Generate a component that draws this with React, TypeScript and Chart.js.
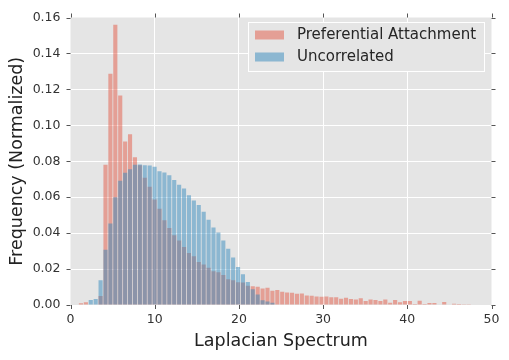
import React, { useEffect, useRef } from 'react';
import { Chart, registerables } from 'chart.js';

Chart.register(...registerables);

// Histogram bins (shared by both series)
const BIN_START = 0.95;
const BIN_WIDTH = 0.583;

const preferential = [
  0.001, 0.0015, 0, 0, 0.005, 0.078, 0.1287, 0.156, 0.1166, 0.091,
  0.095, 0.0822, 0.0778, 0.0708, 0.0658, 0.0587, 0.0535, 0.0471, 0.0428, 0.0388,
  0.0359, 0.0323, 0.029, 0.0272, 0.0239, 0.0226, 0.0208, 0.0188, 0.0182, 0.0167,
  0.0143, 0.0138, 0.0127, 0.0125, 0.0107, 0.0105, 0.0102, 0.0092, 0.0096, 0.0079,
  0.0083, 0.0074, 0.007, 0.0068, 0.0063, 0.0064, 0.0053, 0.0051, 0.0048, 0.0046,
  0.0048, 0.0043, 0.0043, 0.0035, 0.004, 0.0034, 0.003, 0.0037, 0.0022, 0.003,
  0.0028, 0.0022, 0.003, 0.0012, 0.0028, 0.0016, 0.0022, 0.0022, 0.0005, 0.0024,
  0.0005, 0.0011, 0.0011, 0.0003, 0.0017, 0.0003, 0.0007, 0.0006, 0.0002, 0.0002,
];

const uncorrelated = [
  0, 0, 0.0028, 0.0033, 0.0138, 0.0307, 0.0454, 0.06, 0.0691, 0.0736,
  0.0756, 0.078, 0.0782, 0.0778, 0.0776, 0.077, 0.0745, 0.0738, 0.0722, 0.0696,
  0.0669, 0.0649, 0.0611, 0.0582, 0.0556, 0.0519, 0.0474, 0.0432, 0.0404, 0.0359,
  0.0313, 0.0265, 0.0211, 0.0171, 0.0128, 0.0087, 0.0058, 0.0027, 0.002, 0.0012,
  0, 0, 0, 0, 0, 0, 0, 0, 0, 0,
  0, 0, 0, 0, 0, 0, 0, 0, 0, 0,
  0, 0, 0, 0, 0, 0, 0, 0, 0, 0,
  0, 0, 0, 0, 0, 0, 0, 0, 0, 0,
];

const xTicks = [0, 10, 20, 30, 40, 50];
const yTicks = [0, 0.02, 0.04, 0.06, 0.08, 0.1, 0.12, 0.14, 0.16];
const seriesLabels = ['Preferential Attachment', 'Uncorrelated'];
const xTitle = 'Laplacian Spectrum';
const yTitle = 'Frequency (Normalized)';

const PINK = 'rgba(226,74,51,0.45)';
const BLUE = 'rgba(52,138,189,0.5)';
const FONT = '"DejaVu Sans", "Liberation Sans", sans-serif';

const toPoints = (vals: number[]) =>
  vals.map((v, i) => ({ x: BIN_START + BIN_WIDTH * (i + 0.5), y: v }));

const decorPlugin = {
  id: 'decor',
  beforeDraw(chart: any) {
    const { ctx, chartArea: a } = chart;
    ctx.save();
    ctx.fillStyle = '#ffffff';
    ctx.fillRect(0, 0, chart.width, chart.height);
    ctx.fillStyle = '#E5E5E5';
    ctx.fillRect(a.left, a.top, a.right - a.left, a.bottom - a.top);
    ctx.restore();
  },
  afterDraw(chart: any) {
    const { ctx, chartArea: a, scales } = chart;
    ctx.save();
    ctx.strokeStyle = '#555555';
    ctx.lineWidth = 1;
    const L = 4;
    ctx.beginPath();
    xTicks.forEach((v) => {
      const px = Math.round(scales.x.getPixelForValue(v)) + 0.5;
      ctx.moveTo(px, a.bottom);
      ctx.lineTo(px, a.bottom + L);
      ctx.moveTo(px, a.top);
      ctx.lineTo(px, a.top - L);
    });
    yTicks.forEach((v) => {
      const py = Math.round(scales.y.getPixelForValue(v)) + 0.5;
      ctx.moveTo(a.left, py);
      ctx.lineTo(a.left - L, py);
      ctx.moveTo(a.right, py);
      ctx.lineTo(a.right + L, py);
    });
    ctx.stroke();

    // legend
    const bx = 248.5, by = 22.5, bw = 236, bh = 49;
    ctx.fillStyle = '#E5E5E5';
    ctx.fillRect(bx, by, bw, bh);
    ctx.strokeStyle = '#ffffff';
    ctx.strokeRect(bx, by, bw, bh);
    const colors = [PINK, BLUE];
    const rows = [35, 57];
    seriesLabels.forEach((lab, i) => {
      ctx.fillStyle = colors[i];
      ctx.fillRect(255, rows[i] - 4.5, 29, 9);
      ctx.fillStyle = '#262626';
      ctx.font = `15px ${FONT}`;
      ctx.textBaseline = 'middle';
      ctx.textAlign = 'left';
      ctx.fillText(lab, 297, rows[i] + 0.5);
    });
    ctx.restore();
  },
};

export default function App() {
  const ref = useRef<HTMLCanvasElement | null>(null);

  useEffect(() => {
    document.body.style.margin = '0';
    if (!ref.current) return;
    const edgeColor = (min: number, max: number) => (c: any) => {
      const v = c.tick ? c.tick.value : NaN;
      if (Math.abs(v - min) < 1e-9 || Math.abs(v - max) < 1e-9) return 'rgba(0,0,0,0)';
      return '#ffffff';
    };
    const chart = new Chart(ref.current, {
      type: 'bar',
      data: {
        datasets: [
          {
            label: seriesLabels[0],
            data: toPoints(preferential),
            backgroundColor: PINK,
            borderWidth: 0,
            order: 1,
          },
          {
            label: seriesLabels[1],
            data: toPoints(uncorrelated),
            backgroundColor: BLUE,
            borderWidth: 0,
            order: 0,
          },
        ],
      },
      options: {
        animation: false,
        responsive: false,
        maintainAspectRatio: false,
        devicePixelRatio: 1,
        datasets: {
          bar: {
            grouped: false,
            categoryPercentage: 1,
            barPercentage: 0.84,
          },
        },
        layout: { padding: { left: 0, top: 15, right: 17.5, bottom: 0 } },
        plugins: {
          legend: { display: false },
          tooltip: { enabled: false },
        },
        scales: {
          x: {
            type: 'linear',
            min: 0,
            max: 50,
            offset: false,
            afterBuildTicks: (s: any) => {
              s.ticks = xTicks.map((v) => ({ value: v }));
            },
            afterFit: (s: any) => {
              s.height = 55;
            },
            grid: { color: edgeColor(0, 50), lineWidth: 1, drawTicks: false, offset: false },
            border: { display: false },
            ticks: {
              font: { family: FONT, size: 12.5 },
              color: '#333333',
              padding: 7,
              maxRotation: 0,
              callback: (v: any) => String(v),
            },
            title: {
              display: true,
              text: xTitle,
              font: { family: FONT, size: 17.5 },
              color: '#222222',
              padding: { top: 0, bottom: 8.5 },
            },
          },
          y: {
            type: 'linear',
            min: 0,
            max: 0.16,
            afterBuildTicks: (s: any) => {
              s.ticks = yTicks.map((v) => ({ value: v }));
            },
            afterFit: (s: any) => {
              s.width = 70.5;
            },
            grid: { color: edgeColor(0, 0.16), lineWidth: 1, drawTicks: false },
            border: { display: false },
            ticks: {
              font: { family: FONT, size: 12.5 },
              color: '#333333',
              padding: 10,
              callback: (v: any) => Number(v).toFixed(2),
            },
            title: {
              display: true,
              text: yTitle,
              font: { family: FONT, size: 17.5 },
              color: '#222222',
              padding: { top: 6.5, bottom: 0 },
            },
          },
        },
      },
      plugins: [decorPlugin],
    } as any);
    return () => chart.destroy();
  }, []);

  return (
    <div style={{ width: 509, height: 360 }}>
      <canvas ref={ref} width={509} height={360} style={{ display: 'block', width: 509, height: 360 }} />
    </div>
  );
}
